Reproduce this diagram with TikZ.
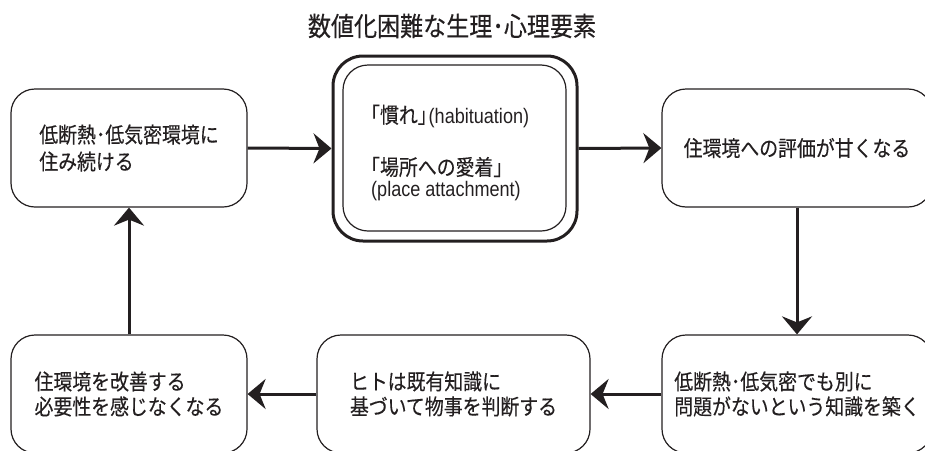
\documentclass[tikz,border=0pt]{standalone}
\usepackage{fontspec}
\usetikzlibrary{arrows.meta}
\newfontfamily\jp[FakeStretch=0.87,FakeBold=0.3]{Noto Sans CJK JP}
\newfontfamily\lat[FakeStretch=0.86]{Liberation Sans}
\definecolor{ink}{HTML}{231F20}
\tikzset{
  boxnode/.style={draw=ink, line width=1.2pt, rounded corners=24pt, minimum height=118pt,
    align=left, inner sep=0pt, text=ink, font=\jp\fontsize{21.7}{25}\selectfont},
  arr/.style={draw=ink, line width=3pt, -{Stealth[length=18pt,width=30pt,inset=6pt]}},
  jptext/.style={inner sep=0pt, text=ink, font=\jp\fontsize{21.7}{25}\selectfont, anchor=west},
}
\begin{document}
\begin{tikzpicture}[x=1pt,y=1pt]
\useasboundingbox (0,0) rectangle (925,-450);
\clip (0,0) rectangle (925,-450);
\node[inner sep=0pt, text=ink, font=\jp\fontsize{26.5}{28}\selectfont] (title) at (452,-26) {数値化困難な生理･心理要素};
\node[boxnode, minimum width=236pt, font=\jp\fontsize{21.7}{27}\selectfont] (b1) at (129,-148) {低断熱･低気密環境に\\住み続ける};
\node[draw=ink, line width=3pt, rounded corners=30pt, minimum width=244pt, minimum height=185pt, inner sep=0pt] (outer) at (455,-148.5) {};
\node[draw=ink, line width=1.2pt, rounded corners=25pt, minimum width=223pt, minimum height=166pt, inner sep=0pt] (inner) at (454.5,-148) {};
\node[jptext] (t1) at (361,-116) {「慣れ」\kern-8pt\lat\fontsize{21}{25}\selectfont(habituation)};
\node[jptext] (t2) at (361,-167) {「場所への愛着」};
\node[jptext, font=\lat\fontsize{21}{25}\selectfont] (t3) at (371,-191) {(place attachment)};
\node[boxnode, minimum width=270pt] (b2) at (797,-148) {住環境への評価が甘くなる};
\node[boxnode, minimum width=270pt] (b3) at (797,-394) {低断熱･低気密でも別に\\問題がないという知識を築く};
\node[boxnode, minimum width=273pt] (b4) at (453.5,-394) {ヒトは既有知識に\\基づいて物事を判断する};
\node[boxnode, minimum width=236pt] (b5) at (129,-394) {住環境を改善する\\必要性を感じなくなる};
\draw[arr] (b1.east) -- (outer.west);
\draw[arr] (outer.east) -- (b2.west);
\draw[arr] (b2.south) -- (b3.north);
\draw[arr] (b3.west) -- (b4.east);
\draw[arr] (b4.west) -- (b5.east);
\draw[arr] (b5.north) -- (b1.south);
\end{tikzpicture}
\end{document}
